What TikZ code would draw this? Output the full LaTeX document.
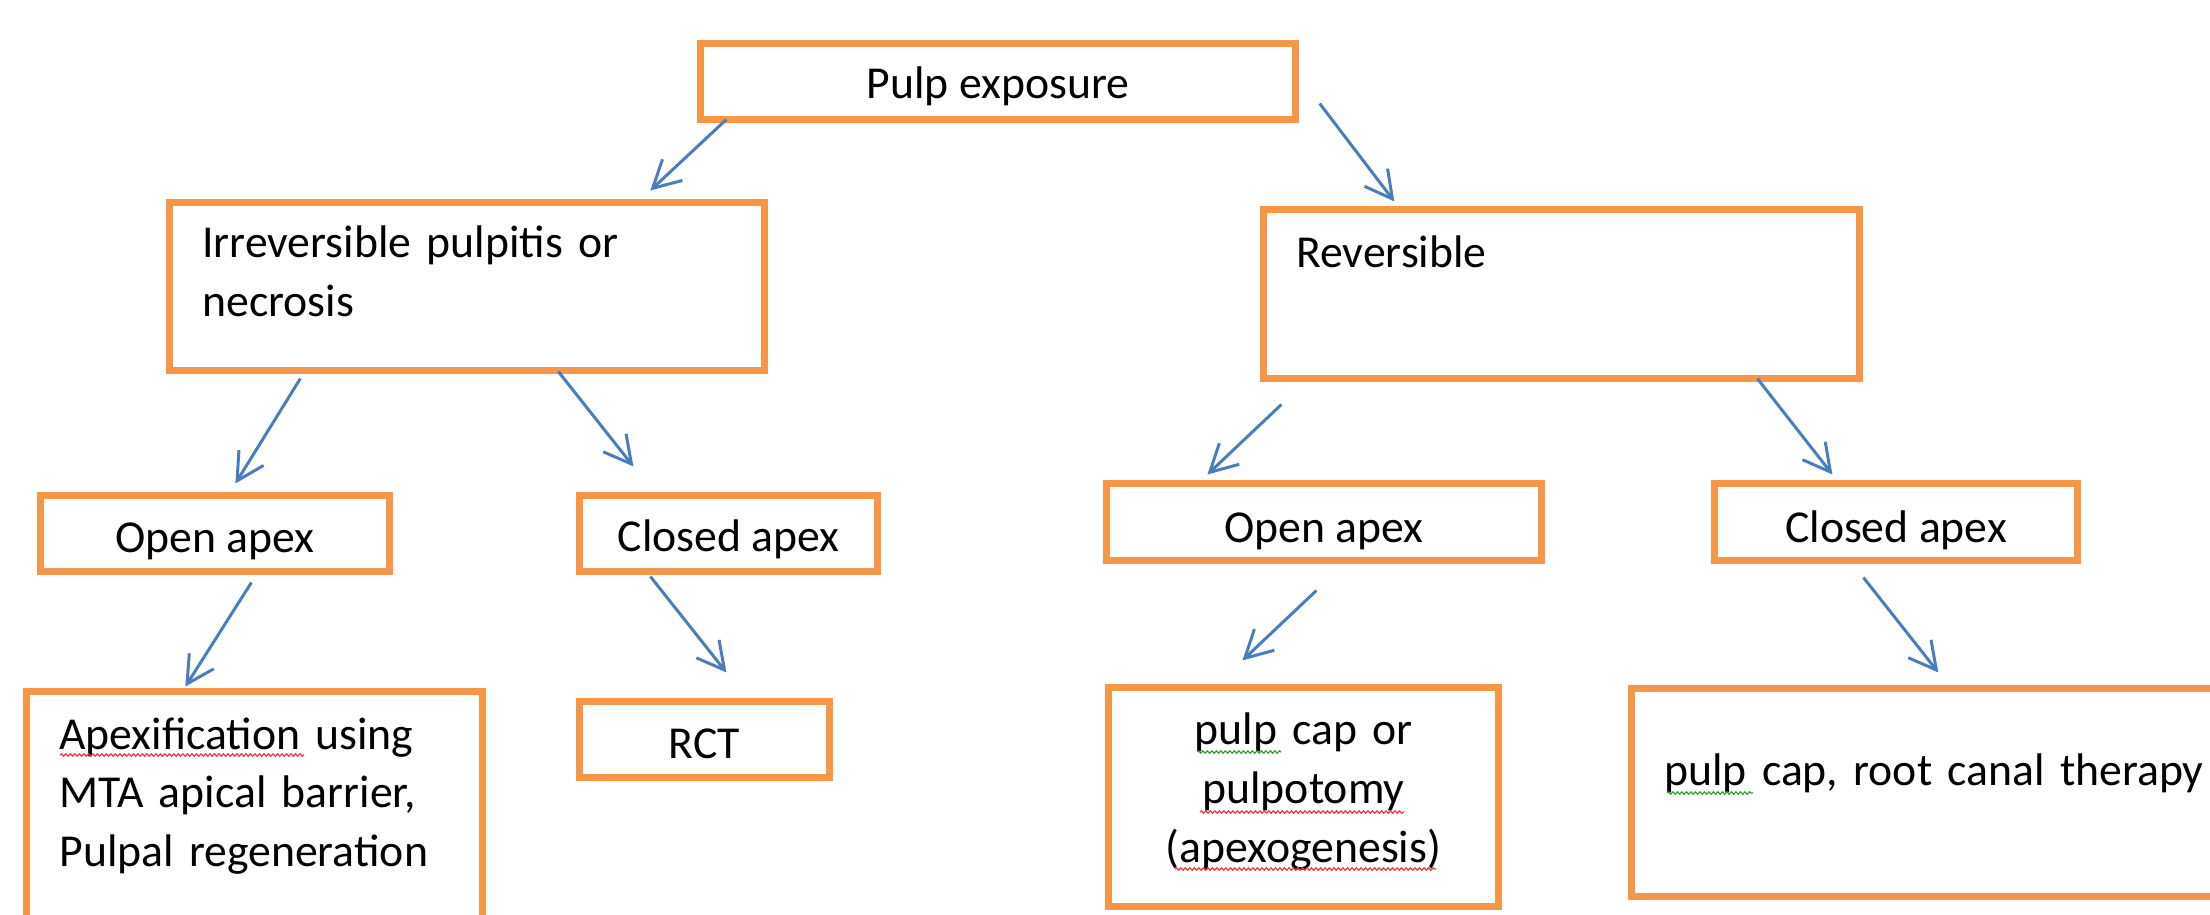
\documentclass[tikz,border=0pt]{standalone}
\usepackage{fontspec}
\setmainfont{Carlito}
\usetikzlibrary{arrows.meta,decorations.pathmorphing}
\definecolor{boxorange}{HTML}{F79646}
\definecolor{arrowblue}{HTML}{4A7EBB}
\definecolor{spellred}{HTML}{E8383D}
\definecolor{spellgreen}{HTML}{3A9A3A}

\begin{document}
\begin{tikzpicture}[x=0.01cm, y=-0.01cm,
  box/.style={draw=boxorange, line width=0.07cm, outer sep=0pt, inner xsep=0.33cm, inner ysep=0pt, font=\fontsize{13}{16.7}\selectfont},
  arr/.style={draw=arrowblue, line width=0.03cm, -{Straight Barb[length=0.27cm, width=0.29cm]}},
  squig/.style={line width=0.012cm, decorate, decoration={snake, amplitude=0.012cm, segment length=0.045cm}}]
\path[use as bounding box, clip] (0,0) rectangle (2210,914);

\node[box, minimum width=5.95cm, text height=0.548cm, text depth=0.212cm] (pe) at (998,81.5) {Pulp exposure};
\node[box, align=left, text width=5.29cm, text height=0.555cm, text depth=1.125cm] (irr) at (467,286.5) {Irreversible pulpitis or\\necrosis};
\node[box, align=left, text width=5.30cm, text height=0.575cm, text depth=1.115cm] (rev) at (1561.5,294) {Reversible};
\node[box, minimum width=3.49cm, text height=0.565cm, text depth=0.195cm] (oaL) at (215,533.5) {Open apex};
\node[box, minimum width=2.98cm, text height=0.555cm, text depth=0.205cm] (caL) at (728.5,533.5) {Closed apex};
\node[box, align=left, text width=3.90cm, text height=0.575cm, text depth=2.11cm] (apx) at (254.5,825.85) {Apexification using\\MTA apical barrier,\\Pulpal regeneration};
\node[box, minimum width=2.50cm, text height=0.57cm, text depth=0.19cm] (rct) at (704.5,739.5) {RCT};
\node[box, minimum width=4.35cm, text height=0.585cm, text depth=0.185cm] (oaR) at (1324,522) {Open apex};
\node[box, minimum width=3.63cm, text height=0.585cm, text depth=0.185cm] (caR) at (1896,522) {Closed apex};
\node[box, align=center, text width=3.24cm, text height=0.575cm, text depth=1.615cm] (pco) at (1303.5,797) {pulp cap or\\pulpotomy\\(apexogenesis)};
\node[box, align=left, text width=5.59cm, text height=0.965cm, text depth=1.115cm] (pcr) at (1944,792.5) {pulp cap, root canal therapy};

\draw[arr] ([shift={(26,0)}]pe.south west) -- ([shift={(481,-12)}]irr.north west);
\draw[arr] ([shift={(24,-16)}]pe.south east) -- ([shift={(131,-8)}]rev.north west);
\draw[arr] ([shift={(131,8)}]irr.south west) -- ([shift={(195,-12)}]oaL.north west);
\draw[arr] ([shift={(389,1)}]irr.south west) -- ([shift={(54,-29)}]caL.north west);
\draw[arr] ([shift={(211,11)}]oaL.south west) -- ([shift={(159,-5)}]apx.north west);
\draw[arr] ([shift={(71,5)}]caL.south west) -- ([shift={(147,-29)}]rct.north west);
\draw[arr] ([shift={(18,26)}]rev.south west) -- ([shift={(101,-9)}]oaR.north west);
\draw[arr] ([shift={(494,0)}]rev.south west) -- ([shift={(118,-9)}]caR.north west);
\draw[arr] ([shift={(210,30)}]oaR.south west) -- ([shift={(134,-27)}]pco.north west);
\draw[arr] ([shift={(149,17)}]caR.south west) -- ([shift={(307,-16)}]pcr.north west);

\draw[squig, spellred] (60,755) -- (304,755);
\draw[squig, spellgreen] (1197,752) -- (1281,752);
\draw[squig, spellred] (1200,812) -- (1404,812);
\draw[squig, spellred] (1175,869) -- (1436,869);
\draw[squig, spellgreen] (1667,793) -- (1753,793);
\end{tikzpicture}
\end{document}
